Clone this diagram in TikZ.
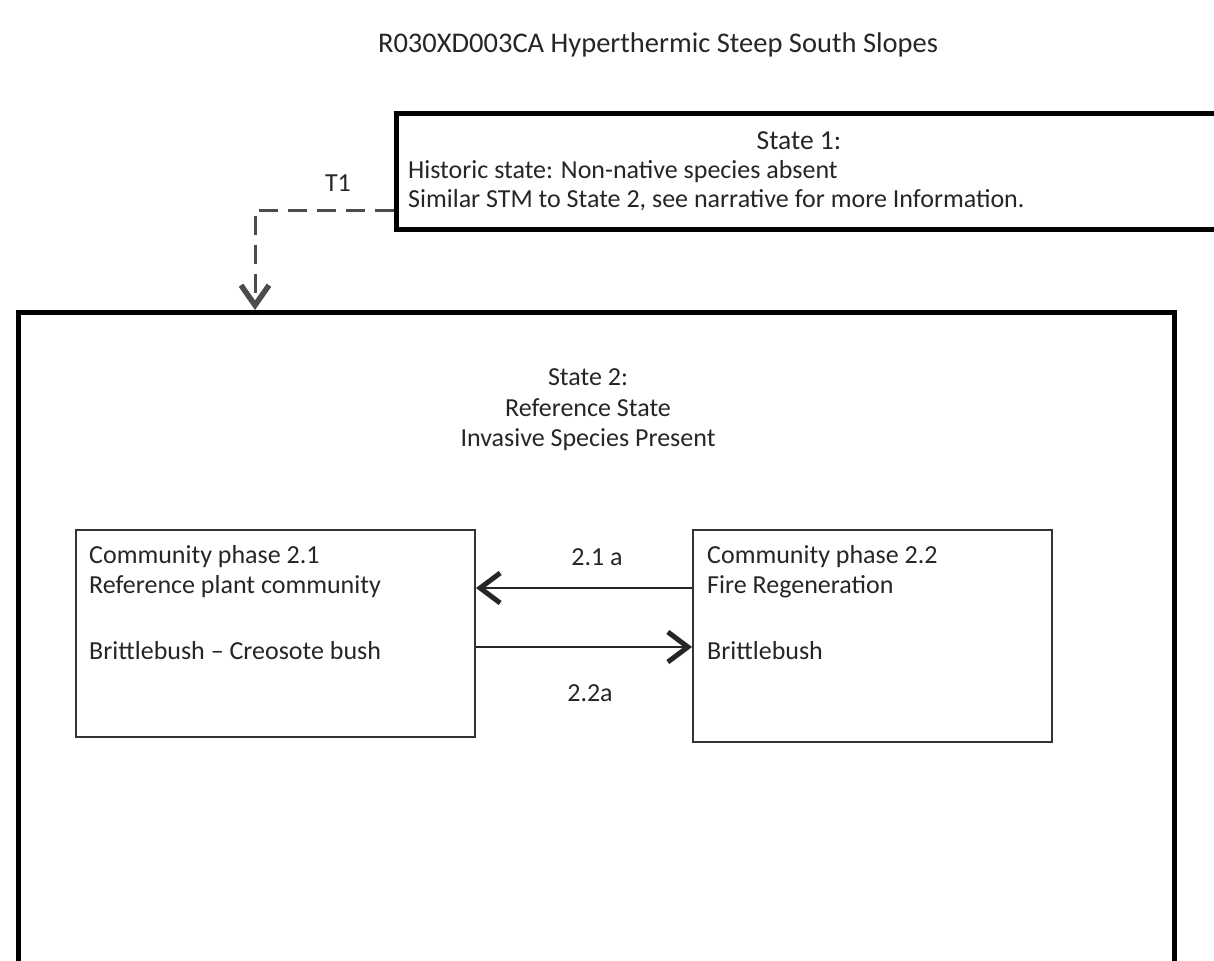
\documentclass[tikz,border=0pt]{standalone}
\usepackage{fontspec}
\setmainfont{Carlito}
\usetikzlibrary{arrows.meta}
\tikzset{
  txt/.style={inner sep=0pt, font=\fontsize{26}{28}\selectfont, text=black!85},
  thickbox/.style={draw=black, line width=5pt},
  thinbox/.style={draw=black!80, line width=2pt},
  conn/.style={draw=black!85, line width=2.2pt, -{Straight Barb[length=20pt,width=30pt,line width=5pt]}},
  dconn/.style={draw=black!70, line width=3pt, dash pattern=on 19pt off 10pt, -{Straight Barb[length=20pt,width=28pt,line width=5.5pt]}}
}
\begin{document}
\begin{tikzpicture}[x=1pt,y=-1pt]
\useasboundingbox (0,0) rectangle (1214,960);
\clip (0,0) rectangle (1214,960);
\fill[white] (0,0) rectangle (1214,960);
% title
\node[txt, font=\fontsize{28.5}{30}\selectfont] (title) at (658,45) {R030XD003CA Hyperthermic Steep South Slopes};
% state 1
\node[thickbox, inner sep=0pt, minimum width=850pt, minimum height=116pt, anchor=north west] (s1) at (394,111) {};
\node[txt, font=\fontsize{27.5}{30}\selectfont] (s1t) at (799,141) {State 1:};
\node[txt, anchor=west] (s1a) at (408,172) {Historic state: Non-native species absent};
\node[txt, anchor=west] (s1b) at (408,200) {Similar STM to State 2, see narrative for more Information.};
% state 2
\node[thickbox, inner sep=0pt, minimum width=1156pt, minimum height=700pt, anchor=north west] (s2) at (16,310) {};
\node[txt] (s2a) at (588,377) {State 2:};
\node[txt] (s2b) at (588,408) {Reference State};
\node[txt] (s2c) at (588,440) {Invasive Species Present};
% T1
\coordinate (t1c) at (255,210);
\draw[dconn] (s1.west |- t1c) -- (t1c) -- (t1c |- s2.north);
\node[txt] (t1) at (338,183) {T1};
% community phases
\node[thinbox, inner sep=0pt, minimum width=399pt, minimum height=207pt, anchor=north west] (cp1) at (75,529) {};
\node[thinbox, inner sep=0pt, minimum width=359pt, minimum height=212pt, anchor=north west] (cp2) at (692,529) {};
\node[txt, anchor=west] (cp1a) at (89,557) {Community phase 2.1};
\node[txt, anchor=west] (cp1b) at (89,587) {Reference plant community};
\node[txt, anchor=west] (cp1c) at (89,651) {Brittlebush – Creosote bush};
\node[txt, anchor=west] (cp2a) at (707,557) {Community phase 2.2};
\node[txt, anchor=west] (cp2b) at (707,587) {Fire Regeneration};
\node[txt, anchor=west] (cp2c) at (707,651) {Brittlebush};
\coordinate (ya) at (0,588);
\coordinate (yb) at (0,647);
\draw[conn] (cp2.west |- ya) -- (cp1.east |- ya);
\draw[conn] (cp1.east |- yb) -- (cp2.west |- yb);
\node[txt] (l21) at (597,557) {2.1 a};
\node[txt] (l22) at (590,693) {2.2a};
\end{tikzpicture}
\end{document}
